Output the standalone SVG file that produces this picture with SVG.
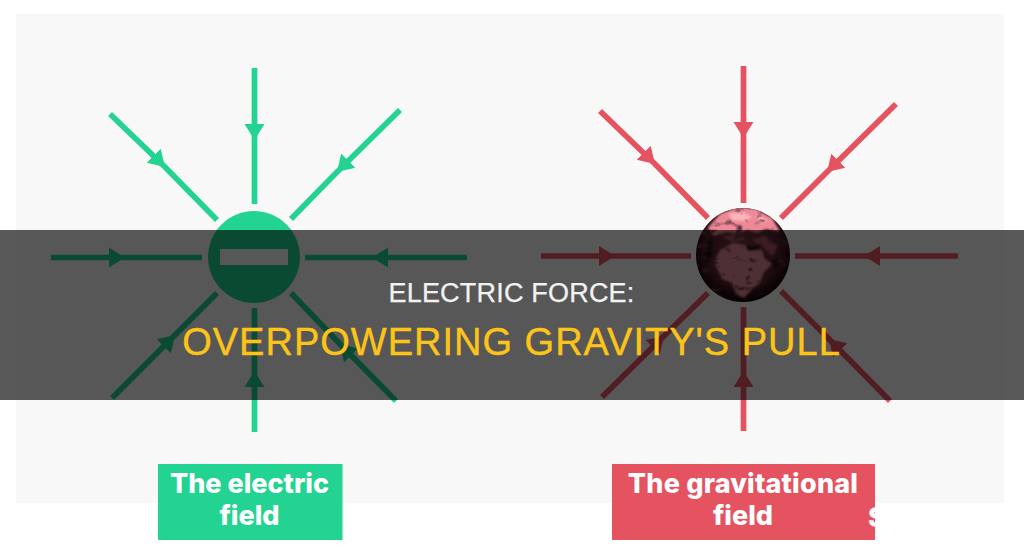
<svg xmlns="http://www.w3.org/2000/svg" width="1024" height="556" viewBox="0 0 1024 556">
  <style>
    .field { fill: none; stroke-width: 5.7; }
    .green { stroke: #22d391; marker-mid: url(#head-green); }
    .red { stroke: #e55361; marker-mid: url(#head-red); }
    .caption { font-family: "Inter", "Liberation Sans", sans-serif; font-weight: 800; font-size: 27px; fill: #ffffff; text-anchor: middle; }
    .title { font-family: "Liberation Sans", Arial, sans-serif; text-anchor: middle; }
  </style>
  <defs>
    <marker id="head-green" markerUnits="userSpaceOnUse" markerWidth="20" markerHeight="26" refX="16" refY="13" orient="auto">
      <path d="M0 3 L16 13 L0 23 Z" fill="#22d391"/>
    </marker>
    <marker id="head-red" markerUnits="userSpaceOnUse" markerWidth="20" markerHeight="26" refX="16" refY="13" orient="auto">
      <path d="M0 3 L16 13 L0 23 Z" fill="#e55361"/>
    </marker>
    <radialGradient id="globe" cx="0.5" cy="0.45" r="0.55">
      <stop offset="0" stop-color="#7b3341"/>
      <stop offset="0.7" stop-color="#54202b"/>
      <stop offset="0.9" stop-color="#260b11"/>
      <stop offset="1" stop-color="#040101"/>
    </radialGradient>
    <clipPath id="globe-clip"><circle cx="743" cy="255" r="47"/></clipPath>
    <clipPath id="red-box"><rect x="612" y="464" width="263" height="76"/></clipPath>
    <filter id="soft" x="-10%" y="-10%" width="120%" height="120%"><feGaussianBlur stdDeviation="1"/></filter>
    <!-- cloud-like dark mottling over the globe -->
    <filter id="mottle" x="0" y="0" width="100%" height="100%">
      <feTurbulence type="fractalNoise" baseFrequency="0.09 0.14" numOctaves="3" seed="7"/>
      <feColorMatrix type="matrix" values="0 0 0 0 0.12  0 0 0 0 0.03  0 0 0 0 0.05  2.6 2.6 0 0 -2.85"/>
    </filter>
  </defs>

  <rect width="1024" height="556" fill="#ffffff"/>
  <rect id="panel" x="16" y="14" width="988" height="489" fill="#f8f8f8"/>

  <g id="connectors">
    <polyline class="field green" points="254.5,68 254.5,140 254.5,204"/>
    <polyline class="field green" points="254.5,432 254.5,371 254.5,308"/>
    <polyline class="field green" points="51,257.5 125,257.5 202,257.5"/>
    <polyline class="field green" points="467,257.5 372,257.5 305,257.5"/>
    <polyline class="field green" points="110,114 165,167 217,220"/>
    <polyline class="field green" points="400,110 337,172 291,219"/>
    <polyline class="field green" points="112,398 175,335 217,293"/>
    <polyline class="field green" points="396,401 340,344 291,293"/>

    <polyline class="field red" points="743.5,66 743.5,138 743.5,203"/>
    <polyline class="field red" points="743.5,431 743.5,371 743.5,307"/>
    <polyline class="field red" points="541,256 615,256 691,256"/>
    <polyline class="field red" points="958,256 864,256 795,256"/>
    <polyline class="field red" points="600,111 655,164 708,218"/>
    <polyline class="field red" points="896,104 827,172 781,218"/>
    <polyline class="field red" points="602,397 664,336 708,293"/>
    <polyline class="field red" points="890,401 829,339 781,291"/>
  </g>

  <g id="negative-charge">
    <circle cx="254" cy="257" r="46" fill="#22d391"/>
    <rect x="220" y="249" width="68" height="16" fill="#f8f8f8"/>
  </g>

  <g id="earth">
    <circle cx="743" cy="255" r="47" fill="url(#globe)"/>
    <g clip-path="url(#globe-clip)">
      <g filter="url(#soft)">
        <!-- northern land masses -->
        <path d="M708 228 L720 214 L738 207 L756 209 L772 218 L780 232 L766 229 L757 233 L747 230 L738 234 L727 232 L714 236 Z" fill="#ee8a98"/>
        <path d="M728 214 L742 212 L752 217 L744 221 L733 220 Z M758 215 L768 221 L760 223 Z" fill="#ffb4bd"/>
        <!-- Africa and Arabia -->
        <path d="M714 262 L720 250 L733 243 L745 245 L752 251 L762 250 L765 259 L772 264 L764 272 L760 283 L752 289 L744 298 L736 294 L732 283 L722 279 Z" fill="#e08a95"/>
        <path d="M752 240 L764 236 L778 246 L772 256 L762 246 Z M722 237 L736 234 L746 239 L732 242 Z" fill="#a85563"/>
        <path d="M745 245 L756 247 L762 242 L758 250 L748 251 Z M770 262 L780 258 L776 270 Z M704 246 L712 238 L712 256 L706 264 Z" fill="#240a10"/>
      </g>
      <rect x="696" y="208" width="94" height="94" filter="url(#mottle)"/>
    </g>
  </g>

  <g id="electric-label">
    <rect x="158" y="464" width="184.500" height="76" fill="#22d391"/>
    <text class="caption" x="249.500" y="493">The electric</text>
    <text class="caption" x="249.500" y="525">field</text>
  </g>

  <g id="gravitational-label">
    <rect x="612" y="464" width="263" height="76" fill="#e55361"/>
    <text class="caption" x="743" y="493" letter-spacing="0.2">The gravitational</text>
    <text class="caption" x="743" y="525">field</text>
    <g clip-path="url(#red-box)"><text class="caption" x="877" y="527">S</text></g>
  </g>

  <rect id="title-band" x="0" y="230" width="1024" height="170" fill="#000000" fill-opacity="0.65"/>
  <g id="title">
    <text class="title" x="511.500" y="302" font-size="27" letter-spacing="0.2" fill="#f2f2f2" stroke="#f2f2f2" stroke-width="0.25">ELECTRIC FORCE:</text>
    <text class="title" x="511.500" y="355" font-size="38" letter-spacing="1" fill="#fcc419" stroke="#fcc419" stroke-width="0.4">OVERPOWERING GRAVITY'S PULL</text>
  </g>
</svg>
